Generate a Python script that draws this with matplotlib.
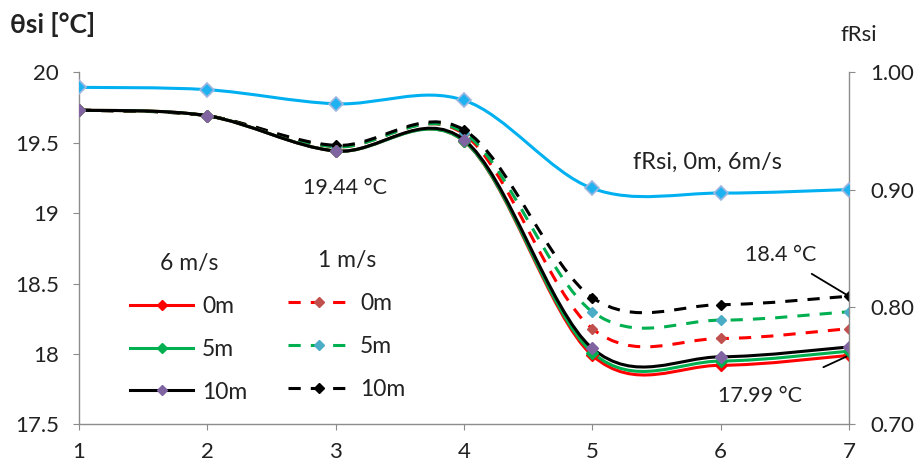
import numpy as np
import matplotlib
matplotlib.use('Agg')
import matplotlib.pyplot as plt
from matplotlib.path import Path
from matplotlib.patches import PathPatch
from matplotlib.lines import Line2D
from matplotlib.ticker import FuncFormatter

plt.rcParams['font.family'] = ['Lato', 'DejaVu Sans']

# surface temperature theta_si [°C] at measuring points 1..7
pos = [1, 2, 3, 4, 5, 6, 7]
t6_0m = [19.73, 19.69, 19.44, 19.51, 17.99, 17.92, 17.99]
t6_5m = [19.73, 19.69, 19.44, 19.51, 18.01, 17.95, 18.02]
t6_10m = [19.73, 19.69, 19.44, 19.52, 18.04, 17.98, 18.05]
t1_0m = [19.73, 19.69, 19.47, 19.56, 18.18, 18.11, 18.18]
t1_5m = [19.73, 19.69, 19.47, 19.57, 18.30, 18.24, 18.30]
t1_10m = [19.73, 19.69, 19.48, 19.59, 18.40, 18.35, 18.41]
# temperature factor fRsi (0m, 6m/s)
frsi = [0.987, 0.985, 0.973, 0.976, 0.901, 0.897, 0.900]

GRAY = '#8c8c8c'
TXT = '#222222'


def smooth_path(x, y):
	# bezier smoothing through the points (like spreadsheet "smoothed line")
	p = np.column_stack([x, y]).astype(float)
	n = len(p)
	verts = [p[0]]
	codes = [Path.MOVETO]
	for i in range(n - 1):
		p0 = p[i - 1] if i > 0 else p[i]
		p3 = p[i + 2] if i + 2 < n else p[i + 1]
		c1 = p[i] + (p[i + 1] - p0) / 6.0
		c2 = p[i + 1] - (p3 - p[i]) / 6.0
		verts += [c1, c2, p[i + 1]]
		codes += [Path.CURVE4] * 3
	return Path(verts, codes)


def curve(ax, x, y, color, mcolor, dashed=False, lw=2.2, ms=6, z=3):
	ls = (0, (4, 3.3)) if dashed else '-'
	ax.add_patch(PathPatch(smooth_path(x, y), fill=False, edgecolor=color,
						   lw=lw, linestyle=ls, zorder=z, capstyle='butt'))
	ax.plot(x, y, ls='none', marker='D', ms=ms, mfc=mcolor, mec=mcolor, zorder=z + 0.5)
	return Line2D([], [], color=color, lw=lw, ls=ls, marker='D', ms=ms - 0.5,
				  mfc=mcolor, mec=mcolor)


fig = plt.figure(figsize=(9.17, 4.68), dpi=100)
ax = fig.add_axes([0.0861, 0.093, 0.8397, 0.753])
ax2 = ax.twinx()

h_d0 = curve(ax, pos, t1_0m, '#ff0000', '#c0504d', dashed=True, ms=5.5)
h_d5 = curve(ax, pos, t1_5m, '#00b050', '#4bacc6', dashed=True, ms=5.5)
h_d10 = curve(ax, pos, t1_10m, '#000000', '#000000', dashed=True, ms=5.5)
h_s0 = curve(ax, pos, t6_0m, '#ff0000', '#ff0000', z=4)
h_s5 = curve(ax, pos, t6_5m, '#00b050', '#00b050', z=4.2)
h_s10 = curve(ax, pos, t6_10m, '#000000', '#8064a2', z=4.4)

ax2.add_patch(PathPatch(smooth_path(pos, frsi), fill=False, edgecolor='#00b0f0', lw=2.2, zorder=3))
ax2.plot(pos, frsi, ls='none', marker='D', ms=7.5, mfc='#1fb2f0', mec='#9db6e0', mew=1.2, zorder=4)

ax.set_xlim(1, 7)
ax.set_ylim(17.5, 20)
ax2.set_ylim(0.70, 1.00)
ax.set_xticks(pos)
ax.set_yticks([17.5, 18, 18.5, 19, 19.5, 20])
ax2.set_yticks([0.70, 0.80, 0.90, 1.00])
ax.yaxis.set_major_formatter(FuncFormatter(lambda v, p: '%g' % v))
ax2.yaxis.set_major_formatter(FuncFormatter(lambda v, p: '%.2f' % v))

for a in (ax, ax2):
	for s in a.spines.values():
		s.set_color(GRAY)
		s.set_linewidth(1.0)
	a.spines['top'].set_visible(False)
ax.spines['right'].set_visible(False)
ax2.spines['left'].set_visible(False)
ax2.spines['bottom'].set_visible(False)
ax.tick_params(axis='y', direction='out', length=4.5, color=GRAY, labelsize=16, labelcolor=TXT, pad=10)
ax.tick_params(axis='x', direction='out', length=4.5, color=GRAY, labelsize=16, labelcolor=TXT, pad=8)
ax2.tick_params(axis='y', direction='out', length=4.5, color=GRAY, labelsize=16, labelcolor=TXT, pad=11)

fig.text(0.011, 0.929, 'θsi [°C]', fontsize=19, fontweight='bold', color=TXT)
fig.text(0.917, 0.912, 'fRsi', fontsize=16, color=TXT)

ax.text(3.07, 19.18, '19.44 °C', fontsize=15.5, color=TXT, ha='center', va='center')
ax.text(5.9, 19.36, 'fRsi, 0m, 6m/s', fontsize=17, color=TXT, ha='center', va='center')
ax.annotate('18.4 °C', xy=(7, t1_10m[-1]), xytext=(6.47, 18.70), fontsize=15.5, color=TXT,
			ha='center', va='center', zorder=6,
			arrowprops=dict(arrowstyle='-', color='black', lw=1.3, shrinkA=8, shrinkB=2))
ax.annotate('17.99 °C', xy=(7, t6_0m[-1]), xytext=(6.31, 17.70), fontsize=15.5, color=TXT,
			ha='center', va='center', zorder=6,
			arrowprops=dict(arrowstyle='-', color='black', lw=1.3, shrinkA=28, shrinkB=2))

leg_kw = dict(frameon=False, fontsize=16.5, handlelength=2.75, handletextpad=0.4,
			  labelspacing=0.95, borderpad=0, borderaxespad=0, title_fontsize=16.5,
			  loc='upper left')
leg1 = ax.legend([h_s0, h_s5, h_s10], ['0m', '5m', '10m'], title='6 m/s',
				 bbox_to_anchor=(0.1418, 0.459), bbox_transform=fig.transFigure, **leg_kw)
ax.add_artist(leg1)
leg2 = ax.legend([h_d0, h_d5, h_d10], ['0m', '5m', '10m'], title='1 m/s',
				 bbox_to_anchor=(0.314, 0.465), bbox_transform=fig.transFigure, **leg_kw)
for lg in (leg1, leg2):
	lg.get_title().set_color(TXT)
	for t in lg.get_texts():
		t.set_color(TXT)

fig.savefig('out.png', dpi=100)
